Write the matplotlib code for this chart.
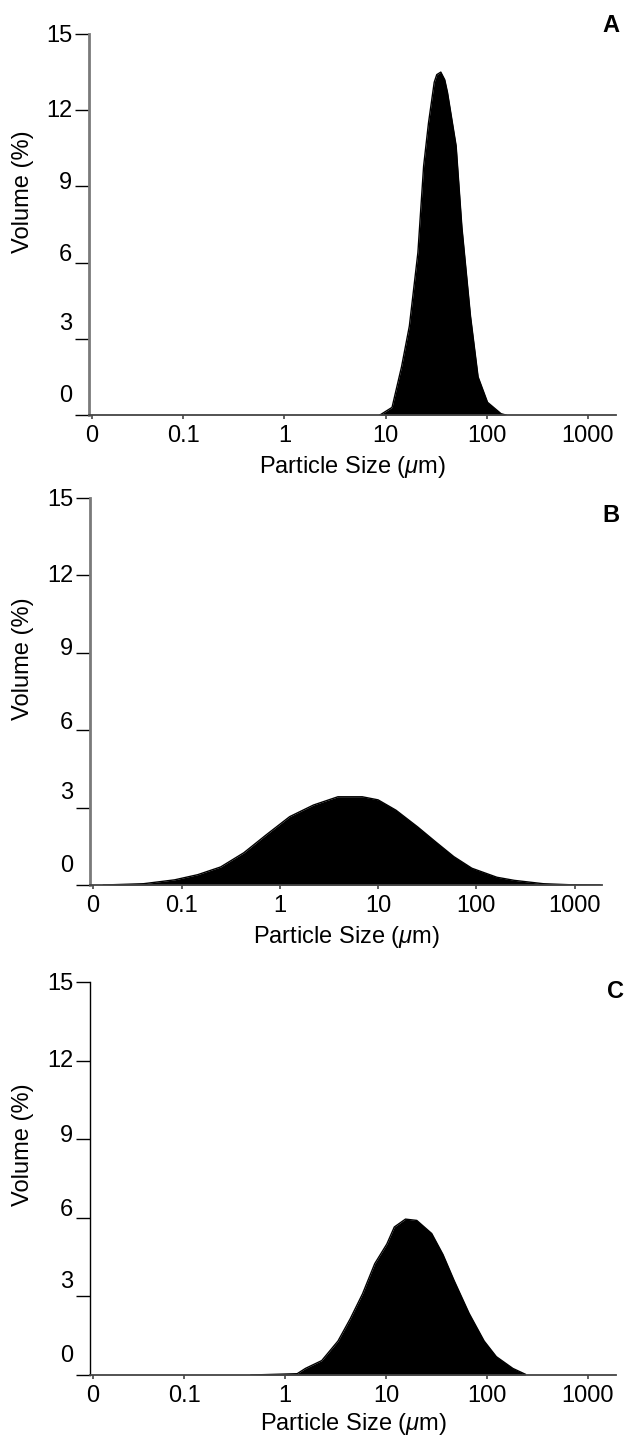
import matplotlib
matplotlib.use("Agg")
import matplotlib.pyplot as plt
from matplotlib.transforms import ScaledTranslation

plt.rcParams['font.family'] = ['Liberation Sans', 'DejaVu Sans']
plt.rcParams['mathtext.fontset'] = 'custom'
plt.rcParams['mathtext.rm'] = 'Liberation Sans'
plt.rcParams['mathtext.it'] = 'Liberation Sans:italic'

# Particle size distributions (size in um, volume in %)
a_size = [8.8, 11.6, 14.4, 17.2, 20.9, 23.8, 26.6, 30.3, 32.1, 35.2, 38.5, 41.0,
          49.9, 56.9, 69.2, 82.3, 102, 139, 155]
a_vol = [0, 0.3, 1.9, 3.5, 6.4, 9.8, 11.5, 13.1, 13.4, 13.5, 13.2, 12.7,
         10.6, 7.4, 3.9, 1.5, 0.5, 0.05, 0]

b_size = [0.016, 0.041, 0.085, 0.146, 0.25, 0.43, 0.73, 1.26, 2.2, 3.9, 6.9, 10,
          15.2, 25.3, 38.6, 59, 90, 162, 243, 480, 900, 1800]
b_vol = [0, 0.05, 0.2, 0.4, 0.7, 1.25, 1.95, 2.65, 3.1, 3.42, 3.42, 3.3,
         2.9, 2.25, 1.67, 1.1, 0.65, 0.3, 0.18, 0.05, 0.01, 0]

c_size = [0.46, 1.32, 1.59, 2.31, 3.35, 4.43, 5.86, 7.74, 10.2, 12.1, 15.6, 20.2,
          28.4, 36.7, 47.4, 66.7, 93.8, 124, 181, 240]
c_vol = [0, 0.05, 0.25, 0.55, 1.3, 2.15, 3.1, 4.25, 5.0, 5.65, 5.95, 5.9,
         5.4, 4.6, 3.6, 2.35, 1.3, 0.7, 0.25, 0.03]

x_ticks = [0.0125, 0.1, 1, 10, 100, 1000]
x_labels = ['0', '0.1', '1', '10', '100', '1000']
y_ticks = [0, 3, 6, 9, 12, 15]
panel_names = ['A', 'B', 'C']

W, H = 625, 1438
fig = plt.figure(figsize=(W / 100, H / 100), dpi=100)

# pixel boxes: left, right, top, bottom
boxes = [(89, 616, 34, 415), (90, 602, 498, 885), (90, 616, 982, 1375)]
letter_pos = [(611, 25), (611, 515), (616, 992)]
yspine = [('#7a7a7a', 2.0), ('#7a7a7a', 2.0), ('black', 1.0)]
xlab_pad = [5, 5, 3]
label_shift = [22, 17, 10, 6, 2, 0]
datasets = [(a_size, a_vol), (b_size, b_vol), (c_size, c_vol)]

for i, (sz, vol) in enumerate(datasets):
    l, r, t, b = boxes[i]
    ax = fig.add_axes([l / W, 1 - b / H, (r - l) / W, (b - t) / H])
    ax.fill_between(sz, vol, 0, color='black', linewidth=0)
    ax.plot(sz, vol, color='black', lw=1.0)
    ax.set_xscale('log')
    ax.set_xlim(0.0117, 1900)
    ax.set_ylim(0, 15)
    ax.set_xticks(x_ticks)
    ax.set_xticklabels(x_labels)
    ax.minorticks_off()
    ax.set_yticks(y_ticks)
    ax.set_yticklabels([str(v) for v in y_ticks])
    for s in ['top', 'right']:
        ax.spines[s].set_visible(False)
    ax.spines['left'].set_color(yspine[i][0])
    ax.spines['left'].set_linewidth(yspine[i][1])
    ax.spines['bottom'].set_color('#444444')
    ax.spines['bottom'].set_linewidth(1.3)
    ax.tick_params(axis='y', length=10, width=1.0, pad=2, labelsize=17, color='black')
    ax.tick_params(axis='x', length=3, width=1.2, pad=4, labelsize=17, color='#444444')
    for lab, d in zip(ax.get_yticklabels(), label_shift):
        lab.set_transform(lab.get_transform() + ScaledTranslation(0, d / 100, fig.dpi_scale_trans))
    ax.set_xlabel('Particle Size ($\\mathit{\\mu}$m)', fontsize=17, labelpad=xlab_pad[i])
    ax.set_ylabel('Volume (%)', fontsize=17)
    ax.yaxis.set_label_coords((34 - l) / (r - l), 0.585)
    fig.text(letter_pos[i][0] / W, 1 - letter_pos[i][1] / H, panel_names[i],
             fontsize=17, fontweight='bold', ha='center', va='center')

fig.savefig('out.png', dpi=100)
